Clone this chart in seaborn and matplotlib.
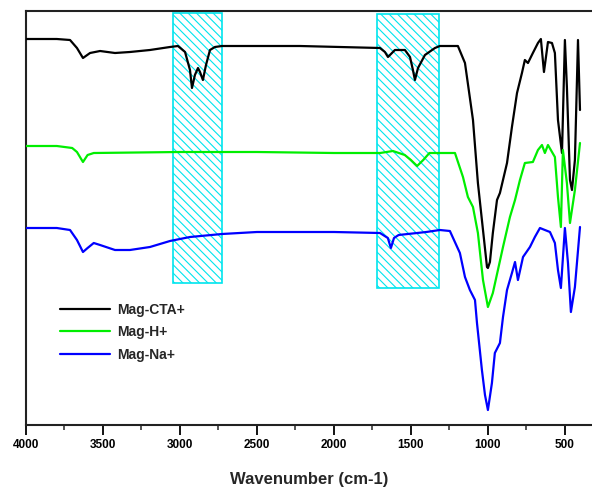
import numpy as np
import pandas as pd
import matplotlib
matplotlib.use("Agg")
import matplotlib.pyplot as plt
from matplotlib.patches import Rectangle
from matplotlib.lines import Line2D
import seaborn as sns

# ---- data (wavenumber cm-1, offset transmittance a.u.) ----
series_names = ["Mag-CTA+", "Mag-H+", "Mag-Na+"]
series_colors = ["#000000", "#00ee00", "#0000ff"]

cta_wn = [4000, 3800, 3714, 3669, 3630, 3584, 3519, 3422, 3325, 3195, 3065, 3013, 2967,
          2935, 2922, 2903, 2883, 2870, 2851, 2831, 2805, 2773, 2727, 2221, 1701, 1669,
          1649, 1604, 1539, 1506, 1487, 1474, 1454, 1409, 1344, 1312, 1195, 1149, 1117,
          1097, 1065, 1039, 1006, 1000, 987, 968, 941, 922, 876, 844, 811, 779, 760, 740,
          708, 675, 656, 636, 610, 584, 565, 545, 519, 500, 487, 467, 454, 435, 415, 402]
cta_t = [386, 386, 385, 377, 367, 372, 374, 372, 373, 375, 378, 379, 373,
         355, 337, 350, 357, 353, 345, 360, 375, 378, 379, 379, 377, 373,
         368, 375, 375, 368, 355, 345, 357, 370, 377, 379, 379, 362, 327,
         305, 242, 205, 158, 157, 163, 192, 225, 232, 262, 298, 332, 352, 365, 362,
         372, 382, 386, 353, 383, 382, 372, 305, 272, 385, 338, 245, 235, 265, 385, 315]

h_wn = [4000, 3800, 3700, 3669, 3630, 3600, 3560, 3000, 2500, 2000, 1700, 1617, 1540,
        1500, 1460, 1420, 1380, 1214, 1162, 1130, 1097, 1065, 1032, 1000, 968, 935,
        902, 857, 824, 792, 760, 708, 675, 649, 630, 610, 565, 545, 526, 513, 487,
        467, 435, 402]
h_t = [279, 279, 277, 273, 263, 270, 272, 273, 273, 272, 272, 274, 270,
       265, 259, 265, 272, 272, 248, 228, 218, 192, 145, 118, 132, 155,
       178, 208, 225, 245, 262, 263, 275, 280, 272, 280, 268, 228, 198, 275, 242,
       202, 235, 282]

na_wn = [4000, 3800, 3714, 3669, 3630, 3600, 3560, 3519, 3422, 3325, 3195, 3065, 2935,
         2727, 2500, 2000, 1701, 1650, 1630, 1610, 1580, 1400, 1312, 1247, 1182, 1149,
         1117, 1084, 1071, 1039, 1019, 1000, 974, 955, 922, 902, 876, 844, 824, 805,
         772, 727, 695, 662, 630, 597, 565, 545, 526, 500, 480, 461, 435, 402]
na_t = [197, 197, 195, 185, 173, 177, 182, 180, 175, 175, 178, 184, 188,
        191, 193, 193, 192, 187, 177, 187, 190, 193, 195, 194, 172, 148,
        135, 125, 102, 55, 30, 15, 42, 72, 82, 108, 135, 152, 163, 145,
        168, 178, 188, 197, 195, 193, 182, 155, 137, 197, 162, 113, 138, 198]

# highlighted regions (wavenumber span, transmittance span)
box_wn_hi = [3045, 1720]
box_wn_lo = [2727, 1318]
box_t_top = [412, 411]
box_t_bot = [142, 137]

# ---- build long frame ----
frames = []
for name, wn, t in zip(series_names, [cta_wn, h_wn, na_wn], [cta_t, h_t, na_t]):
    frames.append(pd.DataFrame({"wn": wn, "T": t, "sample": name}))
df = pd.concat(frames, ignore_index=True)

sns.set_style("white")
plt.rcParams["font.family"] = ["Liberation Sans", "DejaVu Sans"]
plt.rcParams["hatch.linewidth"] = 0.8

fig = plt.figure(figsize=(5.92, 4.87), dpi=100)
ax = fig.add_axes([26 / 592, 62 / 487, 1 - 26 / 592, 414 / 487])

# hatched boxes
for hi, lo, top, bot in zip(box_wn_hi, box_wn_lo, box_t_top, box_t_bot):
    ax.add_patch(Rectangle((lo, bot), hi - lo, top - bot, facecolor="white",
                           edgecolor="#00e5ee", hatch="\\\\\\\\", linewidth=1.2, zorder=1))

sns.lineplot(data=df, x="wn", y="T", hue="sample", hue_order=series_names,
             palette=series_colors, sort=False, estimator=None, linewidth=1.6,
             legend=False, ax=ax, zorder=3)

ax.set_xlim(4000, 324)
ax.set_ylim(0, 414)
ax.set_yticks([])
ax.set_xticks([4000, 3500, 3000, 2500, 2000, 1500, 1000, 500])
ax.set_xticks(np.arange(3750, 300, -500), minor=True)
ax.tick_params(axis="x", which="major", direction="out", length=7, width=1.3,
               labelsize=8.5, pad=3, colors="black")
ax.tick_params(axis="x", which="minor", direction="out", length=3.5, width=1.1)
ax.tick_params(axis="x", bottom=True, top=False, which="both")
for lab in ax.get_xticklabels():
    lab.set_fontweight("bold")
ax.set_xlabel("Wavenumber (cm-1)", fontsize=12, fontweight="bold", labelpad=15)
ax.set_ylabel("")

for side in ["left", "top", "bottom"]:
    ax.spines[side].set_visible(True)
    ax.spines[side].set_color("#222222")
    ax.spines[side].set_linewidth(1.5)
ax.spines["right"].set_visible(False)

handles = [Line2D([], [], color=c, lw=1.6) for c in series_colors]
ax.legend(handles, series_names, loc="upper left", bbox_to_anchor=(0.038, 0.325),
          frameon=False, handlelength=3.6, handletextpad=0.5, labelspacing=0.6,
          prop={"weight": "bold", "size": 10})

fig.savefig("out.png", dpi=100)
